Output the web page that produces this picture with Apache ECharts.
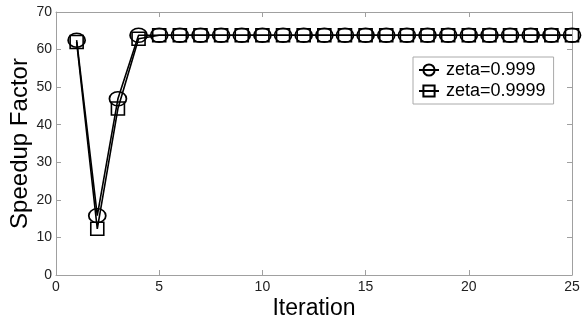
<!DOCTYPE html>
<html>
<head>
<meta charset="utf-8">
<script src="https://cdn.jsdelivr.net/npm/echarts@6/dist/echarts.min.js"></script>
<style>html,body{margin:0;padding:0;background:#fff}#c{width:582px;height:321px}</style>
</head>
<body>
<div id="c"></div>
<script>
const iterations = [1,2,3,4,5,6,7,8,9,10,11,12,13,14,15,16,17,18,19,20,21,22,23,24,25];
const zeta999  = [62.5,15.8,46.9,63.8,63.8,63.8,63.8,63.8,63.8,63.8,63.8,63.8,63.8,63.8,63.8,63.8,63.8,63.8,63.8,63.8,63.8,63.8,63.8,63.8,63.8];
const zeta9999 = [62.0,12.3,44.3,62.9,63.8,63.8,63.8,63.8,63.8,63.8,63.8,63.8,63.8,63.8,63.8,63.8,63.8,63.8,63.8,63.8,63.8,63.8,63.8,63.8,63.8];
const seriesNames = ['zeta=0.999','zeta=0.9999'];
const xTicks = [0,5,10,15,20,25];
const yTicks = [0,10,20,30,40,50,60,70];

const font = 'Liberation Sans, Arial, Helvetica, sans-serif';
const axisCol = '#a0a0a0';
const labelCol = '#222';

const chart = echarts.init(document.getElementById('c'), null, {renderer:'canvas'});
const pairs = (ys) => iterations.map((x,i)=>[x, ys[i]]);

const baseX = {
  type:'value', min:xTicks[0], max:xTicks[xTicks.length-1], interval:5,
  axisLine:{show:true, onZero:false, lineStyle:{color:axisCol, width:1}},
  axisTick:{show:true, inside:true, length:5, lineStyle:{color:axisCol}},
  splitLine:{show:false}
};
const baseY = {
  type:'value', min:yTicks[0], max:yTicks[yTicks.length-1], interval:10,
  axisLine:{show:true, onZero:false, lineStyle:{color:axisCol, width:1}},
  axisTick:{show:true, inside:true, length:5, lineStyle:{color:axisCol}},
  splitLine:{show:false}
};

chart.setOption({
  animation:false,
  backgroundColor:'#fff',
  grid:{left:56, right:10, top:12, bottom:46, containLabel:false, outerBoundsMode:'none'},
  xAxis:[
    Object.assign({}, baseX, {
      position:'bottom',
      name:'Iteration', nameLocation:'middle', nameGap:22, nameMoveOverlap:false,
      nameTextStyle:{fontFamily:font, fontSize:23, color:'#000'},
      axisLabel:{show:true, margin:5, fontFamily:font, fontSize:14, color:labelCol}
    }),
    Object.assign({}, baseX, {position:'top', axisLabel:{show:false}})
  ],
  yAxis:[
    Object.assign({}, baseY, {
      position:'left',
      name:'Speedup Factor', nameLocation:'middle', nameGap:24, nameMoveOverlap:false,
      nameTextStyle:{fontFamily:font, fontSize:24, color:'#000'},
      axisLabel:{show:true, margin:4, fontFamily:font, fontSize:14, color:labelCol}
    }),
    Object.assign({}, baseY, {position:'right', axisLabel:{show:false}})
  ],
  legend:{
    show:true, orient:'vertical', left:413, top:57,
    padding:[4,8,4,5],
    borderColor:'#aaa', borderWidth:1, backgroundColor:'#fff',
    itemWidth:20, itemHeight:14, itemGap:3,
    textStyle:{fontFamily:font, fontSize:18, color:'#000', padding:[0,0,0,2]},
    data:seriesNames
  },
  series:[
    {
      name:seriesNames[0], type:'line', data:pairs(zeta999),
      symbol:'circle', symbolSize:[17,14],
      lineStyle:{color:'#000', width:1.6},
      itemStyle:{color:'rgba(255,255,255,0)', borderColor:'#000', borderWidth:1.6},
      z:3
    },
    {
      name:seriesNames[1], type:'line', data:pairs(zeta9999),
      symbol:'rect', symbolSize:[13,13],
      lineStyle:{color:'#000', width:1.6},
      itemStyle:{color:'rgba(255,255,255,0)', borderColor:'#000', borderWidth:1.6},
      z:2
    }
  ]
});
</script>
</body>
</html>
